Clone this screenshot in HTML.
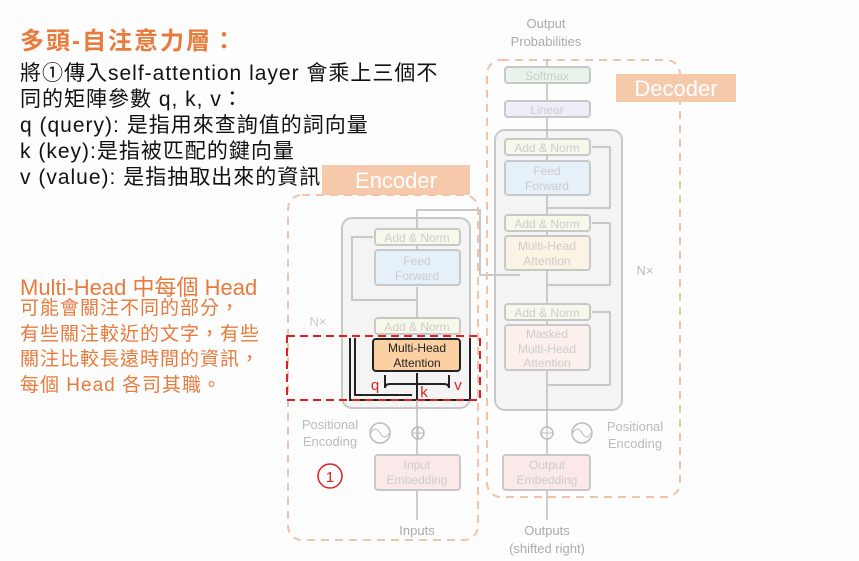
<!DOCTYPE html><html><head><meta charset="utf-8"><style>
body{margin:0;width:859px;height:561px;background:#fdfdfd;overflow:hidden;font-family:"Liberation Sans","Noto Sans CJK TC",sans-serif;position:relative}
.t{position:absolute;white-space:nowrap}
</style></head><body>
<svg width="859" height="561" style="position:absolute;left:0;top:0" font-family="Liberation Sans,sans-serif">
<rect x="322" y="165" width="148" height="30" fill="#f7c9ab"/>
<text x="396" y="188" font-size="22" fill="#fff" text-anchor="middle">Encoder</text>
<rect x="288" y="195" width="190" height="345" rx="14" fill="none" stroke="#f3c2a8" stroke-width="2" stroke-dasharray="8,6"/>
<rect x="342" y="218" width="128" height="190" rx="10" fill="#f4f4f4" stroke="#c8c8c8" stroke-width="2"/>
<rect x="375" y="229" width="85" height="16" rx="3" fill="#f6f8ea" stroke="#c8c8c8" stroke-width="2"/>
<text x="417" y="242" font-size="12" fill="#ccc" text-anchor="middle">Add &amp; Norm</text>
<rect x="375" y="250" width="85" height="35" rx="3" fill="#e6f0f8" stroke="#c8c8c8" stroke-width="2"/>
<text x="417" y="265" font-size="12" fill="#ccc" text-anchor="middle">Feed</text><text x="417" y="280" font-size="12" fill="#ccc" text-anchor="middle">Forward</text>
<rect x="375" y="318" width="85" height="16" rx="3" fill="#f6f8ea" stroke="#c8c8c8" stroke-width="2"/>
<text x="417" y="331" font-size="12" fill="#ccc" text-anchor="middle">Add &amp; Norm</text>
<path d="M417,318V287M417,250V245" stroke="#bbb" stroke-width="1.5" fill="none"/>
<path d="M417,300H352V237H373" stroke="#c8c8c8" stroke-width="2" fill="none"/>
<path d="M417,229V210H480V275H490" stroke="#c8c8c8" stroke-width="2" fill="none"/>
<rect x="373" y="339" width="87" height="32" rx="3" fill="#fbd1a4" stroke="#222" stroke-width="2"/>
<text x="417" y="352" font-size="12" fill="#222" text-anchor="middle">Multi-Head</text><text x="417" y="367" font-size="12" fill="#222" text-anchor="middle">Attention</text>
<path d="M417,400V373M385,388V375M449,388V375M385,388Q385,384 390,384H444Q449,384 449,388" stroke="#222" stroke-width="2" fill="none"/>
<path d="M350,338V400H470V338M355,338V395H412" stroke="#222" stroke-width="2" fill="none"/>
<rect x="287" y="336" width="193" height="64" fill="none" stroke="#e02020" stroke-width="2" stroke-dasharray="8,5"/>
<text x="375" y="390" font-size="15" fill="#e02020" text-anchor="middle">q</text>
<text x="424" y="397" font-size="15" fill="#e02020" text-anchor="middle">k</text>
<text x="458" y="390" font-size="15" fill="#e02020" text-anchor="middle">v</text>
<text x="318" y="326" font-size="13" fill="#ccc" text-anchor="middle">N×</text>
<path d="M417,455V400M417,520V490" stroke="#bbb" stroke-width="1.5" fill="none"/>
<circle cx="380" cy="433" r="10" fill="none" stroke="#bbb" stroke-width="1.5"/><path d="M371,433q4,-8 9,0t9,0" stroke="#bbb" fill="none"/>
<circle cx="418" cy="433" r="6" fill="none" stroke="#bbb" stroke-width="1.5"/><path d="M412,433h12M418,427v12" stroke="#bbb"/>
<text x="330" y="429" font-size="13" fill="#bbb" text-anchor="middle">Positional</text><text x="330" y="446" font-size="13" fill="#bbb" text-anchor="middle">Encoding</text>
<rect x="375" y="455" width="85" height="35" rx="3" fill="#fbe8e8" stroke="#c8c8c8" stroke-width="2"/>
<text x="417" y="469" font-size="12" fill="#ccc" text-anchor="middle">Input</text><text x="417" y="484" font-size="12" fill="#ccc" text-anchor="middle">Embedding</text>
<text x="417" y="535" font-size="13" fill="#aaa" text-anchor="middle">Inputs</text>
<circle cx="330" cy="476" r="12" fill="none" stroke="#e02020" stroke-width="1.5"/><text x="330" y="482" font-size="15" fill="#e02020" text-anchor="middle">1</text>
<rect x="487" y="60" width="193" height="437" rx="14" fill="none" stroke="#f3c2a8" stroke-width="2" stroke-dasharray="8,6"/>
<rect x="616" y="74" width="120" height="28" fill="#f7c9ab"/>
<text x="676" y="96" font-size="22" fill="#fff" text-anchor="middle">Decoder</text>
<text x="546" y="28" font-size="13" fill="#aaa" text-anchor="middle">Output</text><text x="546" y="46" font-size="13" fill="#aaa" text-anchor="middle">Probabilities</text>
<rect x="495" y="130" width="127" height="280" rx="10" fill="#f4f4f4" stroke="#c8c8c8" stroke-width="2"/>
<path d="M547,455V60M547,520V490" stroke="#bbb" stroke-width="1.5" fill="none"/>
<rect x="505" y="67" width="85" height="16" rx="3" fill="#e8f4ea" stroke="#c8c8c8" stroke-width="2"/><text x="547" y="80" font-size="12" fill="#ccc" text-anchor="middle">Softmax</text>
<rect x="505" y="101" width="85" height="16" rx="3" fill="#eeeef8" stroke="#c8c8c8" stroke-width="2"/><text x="547" y="114" font-size="12" fill="#ccc" text-anchor="middle">Linear</text>
<rect x="505" y="139" width="85" height="16" rx="3" fill="#f6f8ea" stroke="#c8c8c8" stroke-width="2"/><text x="547" y="152" font-size="12" fill="#ccc" text-anchor="middle">Add &amp; Norm</text>
<rect x="505" y="161" width="85" height="34" rx="3" fill="#e6f0f8" stroke="#c8c8c8" stroke-width="2"/><text x="547" y="175" font-size="12" fill="#ccc" text-anchor="middle">Feed</text><text x="547" y="190" font-size="12" fill="#ccc" text-anchor="middle">Forward</text>
<rect x="505" y="215" width="85" height="16" rx="3" fill="#f6f8ea" stroke="#c8c8c8" stroke-width="2"/><text x="547" y="228" font-size="12" fill="#ccc" text-anchor="middle">Add &amp; Norm</text>
<rect x="505" y="236" width="85" height="34" rx="3" fill="#fbf4e4" stroke="#c8c8c8" stroke-width="2"/><text x="547" y="250" font-size="12" fill="#ccc" text-anchor="middle">Multi-Head</text><text x="547" y="265" font-size="12" fill="#ccc" text-anchor="middle">Attention</text>
<rect x="505" y="304" width="85" height="16" rx="3" fill="#f6f8ea" stroke="#c8c8c8" stroke-width="2"/><text x="547" y="317" font-size="12" fill="#ccc" text-anchor="middle">Add &amp; Norm</text>
<rect x="505" y="325" width="85" height="45" rx="3" fill="#fbf0ec" stroke="#c8c8c8" stroke-width="2"/><text x="547" y="338" font-size="12" fill="#ccc" text-anchor="middle">Masked</text><text x="547" y="353" font-size="12" fill="#ccc" text-anchor="middle">Multi-Head</text><text x="547" y="367" font-size="12" fill="#ccc" text-anchor="middle">Attention</text>
<path d="M547,208H610V147H592M547,285H610V223H592M547,385H610V312H592M490,275H520" stroke="#c8c8c8" stroke-width="2" fill="none"/>
<text x="645" y="275" font-size="13" fill="#bbb" text-anchor="middle">N×</text>
<circle cx="547" cy="433" r="6" fill="#fff" stroke="#bbb" stroke-width="1.5"/><path d="M541,433h12M547,427v12" stroke="#bbb"/>
<circle cx="582" cy="433" r="10" fill="none" stroke="#bbb" stroke-width="1.5"/><path d="M573,433q4,-8 9,0t9,0" stroke="#bbb" fill="none"/>
<text x="635" y="431" font-size="13" fill="#bbb" text-anchor="middle">Positional</text><text x="635" y="448" font-size="13" fill="#bbb" text-anchor="middle">Encoding</text>
<rect x="503" y="455" width="87" height="35" rx="3" fill="#fbe8e8" stroke="#c8c8c8" stroke-width="2"/><text x="547" y="469" font-size="12" fill="#ccc" text-anchor="middle">Output</text><text x="547" y="484" font-size="12" fill="#ccc" text-anchor="middle">Embedding</text>
<text x="547" y="535" font-size="13" fill="#aaa" text-anchor="middle">Outputs</text><text x="547" y="553" font-size="13" fill="#aaa" text-anchor="middle">(shifted right)</text>
</svg>
<div class="t" style="left:20px;top:21px;font-size:24px;letter-spacing:2px;font-weight:bold;color:#e87a3c">多頭-自注意力層：</div>
<div class="t" style="left:20px;top:61px;font-size:21px;line-height:26px;letter-spacing:1px;color:#111">將①傳入self-attention layer 會乘上三個不<br>同的矩陣參數 q, k, v：<br>q (query): 是指用來查詢值的詞向量<br>k (key):是指被匹配的鍵向量<br>v (value): 是指抽取出來的資訊</div>
<div class="t" style="left:20px;top:270px;font-size:22px;color:#e87a3c">Multi-Head 中每個 Head</div>
<div class="t" style="left:20px;top:296px;font-size:19px;line-height:25.5px;letter-spacing:1px;color:#e87a3c">可能會關注不同的部分，<br>有些關注較近的文字，有些<br>關注比較長遠時間的資訊，<br>每個 Head 各司其職。</div>
</body></html>
